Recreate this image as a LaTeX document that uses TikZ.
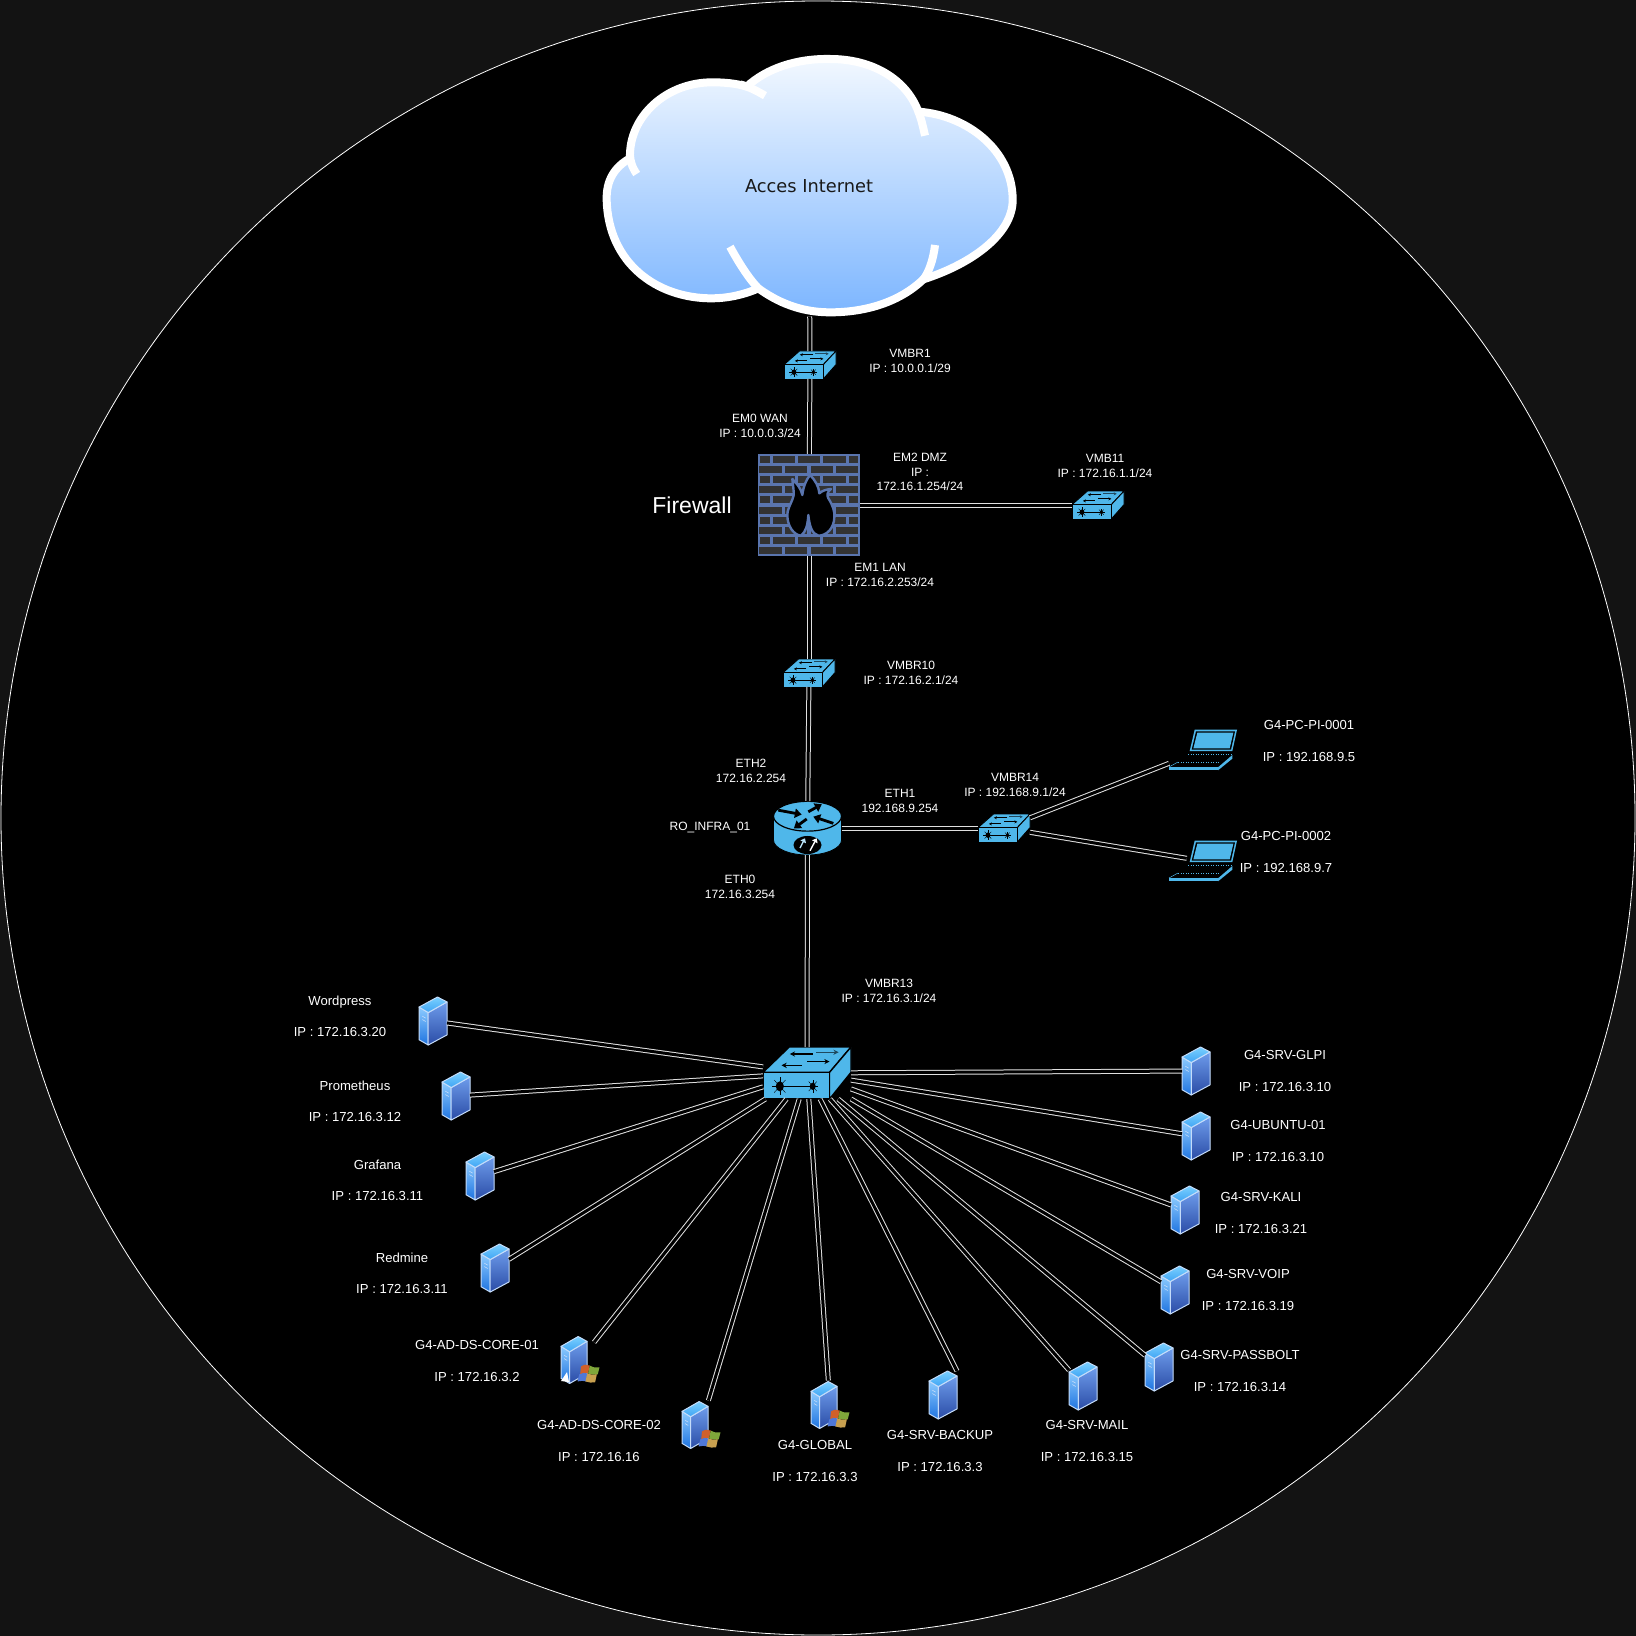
\documentclass[tikz,border=0pt]{standalone}
\usepackage{fontspec}
\setmainfont{Liberation Sans}
\newfontfamily\cloudfont{DejaVu Sans}
\usetikzlibrary{
  arrows.meta,
  positioning
}
\definecolor{nwOuter}{HTML}{131313}
\definecolor{nwIcon}{HTML}{4FB7EA}
\definecolor{nwMortar}{HTML}{5A75AE}
\definecolor{nwBrick}{HTML}{333333}
\definecolor{nwFlame}{HTML}{000000}
\definecolor{nwCloudTop}{HTML}{F2F8FF}
\definecolor{nwCloudLow}{HTML}{7DB6FF}
\definecolor{nwSrvEdge}{HTML}{C4DCFA}
\definecolor{nwSrvLeftA}{HTML}{8CCBFF}
\definecolor{nwSrvLeftB}{HTML}{1E73E0}
\definecolor{nwSrvRightA}{HTML}{6E9CEB}
\definecolor{nwSrvRightB}{HTML}{2A4CA6}
\definecolor{nwSrvTopA}{HTML}{7AD0FF}
\definecolor{nwSrvTopB}{HTML}{3FA4F4}
\definecolor{nwWinRed}{HTML}{D0602A}
\definecolor{nwWinGreen}{HTML}{7FA63A}
\definecolor{nwWinBlue}{HTML}{4F78D8}
\definecolor{nwWinYellow}{HTML}{C8A04F}
\tikzset{
  hitbox/.style={inner sep=0pt, outer sep=0pt, rectangle},
  swsmall/.style={hitbox, minimum width=26pt, minimum height=14pt},
  swcore/.style={hitbox, minimum width=44pt, minimum height=26pt},
  srvbox/.style={hitbox, minimum width=14pt, minimum height=24pt},
  winbox/.style={hitbox, minimum width=19pt, minimum height=24.5pt},
  pcbox/.style={hitbox, minimum width=34pt, minimum height=20.5pt},
  netlink/.style={draw=white!88!black, line width=.5pt, double=black, double distance=1.5pt},
  lbl/.style={text=white, align=center, inner sep=0pt, yshift=-.5pt, font=\fontsize{6}{7.3}\selectfont},
  srvlbl/.style={lbl, font=\fontsize{6.55}{8}\selectfont},
  cloudedge/.style={draw=white, line width=4pt, line join=round},
  brick/.style={fill=nwBrick},
  routerarrow/.style={-{Triangle[length=3.4pt,width=4.6pt]}, black, line width=1.4pt},
  routerinner/.style={-{Triangle[length=2pt,width=3pt]}, line width=.7pt},
  pics/switchpic/.style={code={
    \filldraw[fill=nwIcon, draw=black] (-.5,-.013) -- (-.202,-.5) -- (.5,-.5) -- (.256,-.013) -- cycle;
    \filldraw[fill=nwIcon, draw=black] (.256,-.013) -- (.5,-.5) -- (.5,-.013) -- (.256,.5) -- cycle;
    \filldraw[fill=nwIcon, draw=black] (-.5,-.013) rectangle (.256,.5);
    \draw[-{Stealth[length=#1,width=#1]}, black] (.065,-.365) -- (-.195,-.365);
    \draw[-{Stealth[length=#1,width=#1]}, black!60!nwIcon] (.103,-.40) -- (.359,-.40);
    \draw[-{Stealth[length=#1,width=#1]}, black] (-.06,-.147) -- (-.29,-.147);
    \draw[-{Stealth[length=#1,width=#1]}, black] (0,-.22) -- (.256,-.22);
    \draw[black] (-.309,.256) -- (.065,.256);
    \fill[black] (-.309,.256) ellipse [x radius=.046, y radius=.096];
    \fill[black] (.065,.256) ellipse [x radius=.034, y radius=.07];
    \foreach \ang in {0,45,...,315} {
      \draw[black, line width=.2pt] (-.309,.256) -- ++({\ang}:.09 and .17);
      \draw[black, line width=.2pt] (.065,.256) -- ++({\ang}:.065 and .13);
    }
  }},
  serverpic/.pic={
    \shadedraw[top color=nwSrvLeftA, bottom color=nwSrvLeftB, draw=nwSrvEdge, line width=.5pt, line join=round]
      (-.5,-.29) -- (-.17,-.176) -- (-.17,.5) -- (-.5,.39) -- cycle;
    \shadedraw[top color=nwSrvRightA, bottom color=nwSrvRightB, draw=nwSrvEdge, line width=.5pt, line join=round]
      (-.17,-.176) -- (.5,-.397) -- (.5,.29) -- (-.17,.5) -- cycle;
    \shadedraw[top color=nwSrvTopA, bottom color=nwSrvTopB, draw=nwSrvEdge, line width=.5pt, line join=round]
      (-.5,-.29) -- (.16,-.5) -- (.5,-.397) -- (-.17,-.176) -- cycle;
    \draw[nwSrvEdge, line width=.3pt] (-.38,-.1) -- (-.26,-.06) (-.38,-.03) -- (-.26,.01);
  },
  winlogo/.pic={
    \fill[nwWinRed] (-1,-9) .. controls (3,-12) and (6,-11) .. (9,-10) -- (7,-1) .. controls (4,-2) and (1,-2) .. (-2,0) -- cycle;
    \fill[nwWinGreen] (9,-10) .. controls (13,-8) and (16,-7) .. (20,-8) -- (18,0) .. controls (14,1) and (11,0) .. (7,-1) -- cycle;
    \fill[nwWinBlue] (-3,0) .. controls (0,-2) and (3,-2) .. (6,-1) -- (5,8) .. controls (2,7) and (-1,7) .. (-5,8) -- cycle;
    \fill[nwWinYellow] (6,-1) .. controls (10,0) and (13,1) .. (17,0) -- (15,9) .. controls (11,10) and (8,9) .. (4,8) -- cycle;
  },
  laptoppic/.pic={
    \fill[nwIcon] (-40,3) -- (-25,-61) -- (102,-61) -- (88,3) -- cycle;
    \fill[black] (-34,-1) -- (-21,-56) -- (96,-56) -- (84,-1) -- cycle;
    \fill[nwIcon] (-29,-5) -- (-17,-52) -- (91,-52) -- (80,-5) -- cycle;
    \fill[nwIcon] (-102,52) -- (45,52) -- (45,61) -- (-102,61) -- cycle;
    \fill[nwIcon] (45,52) -- (88,15) -- (88,26) -- (45,61) -- cycle;
    \draw[nwIcon, line width=.25pt] (-102,51) -- (-75,36);
    \draw[nwIcon, line width=.25pt, densely dotted] (-45,13) -- (88,13);
    \draw[nwIcon, line width=.25pt, densely dotted] (-75,36) -- (50,36);
  },
  routerpic/.pic={
    \filldraw[fill=nwIcon, draw=black, line width=.4pt] (-.5,-.218) -- (-.5,.224) .. controls (-.5,.37) and (-.28,.5) .. (0,.5)
      .. controls (.28,.5) and (.5,.37) .. (.5,.224) -- (.5,-.218) -- cycle;
    \filldraw[fill=nwIcon, draw=black, line width=.6pt] (0,-.218) ellipse [x radius=.5, y radius=.276];
    \draw[routerarrow] (-.43,-.33) -- (-.086,-.25);
    \draw[routerarrow] (.012,-.30) -- (.21,-.44);
    \draw[routerarrow] (-.012,-.167) -- (-.2,.006);
    \draw[routerarrow] (.38,-.086) -- (.085,-.21);
    \fill[black] (0,.315) ellipse [x radius=.206, y radius=.167];
    \draw[routerinner, nwIcon!40!white] (-.11,.37) -- (-.037,.19);
    \draw[routerinner, white] (.037,.42) -- (.135,.19);
  },
  firewallpic/.pic={
    \fill[nwMortar] (113,72) rectangle (420,378);
    \foreach \r in {0,2,4,6,8} {
      \foreach \a/\b in {120/150,158/225,233/300,310/378,387/415}
        \fill[brick] ({\a},{77+\r*30.6}) rectangle ({\b},{98+\r*30.6});
    }
    \foreach \r in {1,3,5,7,9} {
      \foreach \a/\b in {118/187,195/262,272/340,347/415}
        \fill[brick] ({\a},{77+\r*30.6}) rectangle ({\b},{98+\r*30.6});
    }
    \filldraw[fill=nwFlame, draw=nwMortar, line width=1.2pt, line join=round]
      (270,135) .. controls (285,150) and (297,170) .. (298,190)
      .. controls (305,183) and (318,178) .. (333,177)
      .. controls (322,185) and (320,195) .. (325,205)
      .. controls (338,225) and (345,245) .. (343,262)
      .. controls (342,295) and (320,317) .. (295,317)
      .. controls (275,312) and (268,285) .. (265,255)
      .. controls (263,285) and (258,305) .. (243,317)
      .. controls (222,315) and (202,290) .. (202,255)
      .. controls (202,230) and (225,205) .. (221,185)
      .. controls (220,170) and (218,160) .. (217,147)
      .. controls (230,160) and (243,175) .. (247,195)
      .. controls (250,170) and (258,150) .. (270,135) -- cycle;
  }
}
\begin{document}
\begin{tikzpicture}[x=.5pt, y=-.5pt]
  \useasboundingbox (0,0) rectangle (1636,1636);
  \fill[nwOuter] (0,0) rectangle (1636,1636);
  \filldraw[fill=black, draw=white, line width=.4pt] (818,818) circle [radius=817];

  % cloud
  \begin{scope}[shift={(580,30)}, x=.16667pt, y=-.16667pt]
    \shade[top color=nwCloudTop, bottom color=nwCloudLow]
      (80,510) .. controls (78,450) and (105,410) .. (150,385)
      .. controls (145,260) and (260,155) .. (400,157)
      .. controls (430,157) and (470,160) .. (500,170)
      .. controls (560,115) and (650,85) .. (750,87)
      .. controls (880,87) and (980,150) .. (1015,245)
      .. controls (1160,255) and (1298,360) .. (1298,510)
      .. controls (1298,610) and (1180,700) .. (1030,748)
      .. controls (960,815) and (860,847) .. (750,847)
      .. controls (660,847) and (590,815) .. (535,775)
      .. controls (490,795) and (440,805) .. (395,805)
      .. controls (230,805) and (85,700) .. (80,510) -- cycle;
    \draw[cloudedge]
      (80,510) .. controls (78,450) and (105,410) .. (150,385)
      .. controls (145,260) and (260,155) .. (400,157)
      .. controls (430,157) and (470,160) .. (500,170)
      .. controls (560,115) and (650,85) .. (750,87)
      .. controls (880,87) and (980,150) .. (1015,245)
      .. controls (1160,255) and (1298,360) .. (1298,510)
      .. controls (1298,610) and (1180,700) .. (1030,748)
      .. controls (960,815) and (860,847) .. (750,847)
      .. controls (660,847) and (590,815) .. (535,775)
      .. controls (490,795) and (440,805) .. (395,805)
      .. controls (230,805) and (85,700) .. (80,510) -- cycle;
    \draw[cloudedge] (170,432) .. controls (155,410) and (150,390) .. (150,375);
    \draw[cloudedge] (480,163) .. controls (505,170) and (530,182) .. (555,197);
    \draw[cloudedge] (1015,245) .. controls (1025,270) and (1030,295) .. (1035,317);
    \draw[cloudedge] (1065,645) .. controls (1060,690) and (1045,730) .. (1030,748);
    \draw[cloudedge] (450,650) .. controls (480,705) and (510,750) .. (535,775);
  \end{scope}
  \node[hitbox, minimum width=209pt, minimum height=130.5pt, text=black!90, font=\cloudfont\fontsize{8.9}{11}\selectfont] (cloud) at (809,186) {Acces Internet};

  % switches
  \foreach \nm/\x/\y in {sw1/810/365, sw10/809/673, sw11/1098/505, sw14/1004/828} {
    \node[swsmall] (\nm) at (\x,\y) {};
    \pic[x=26pt, y=-14pt, line width=.45pt] at (\nm) {switchpic=1.5pt};
  }
  \node[swcore] (sw13) at (807,1073) {};
  \pic[x=44pt, y=-26pt, line width=.7pt] at (sw13) {switchpic=2.6pt};

  % firewall, router
  \node[hitbox, minimum size=51pt] (fw) at (809,505) {};
  \begin{scope}[shift={(720,430)}, x=.16667pt, y=-.16667pt]
    \pic at (0,0) {firewallpic};
  \end{scope}
  \node[hitbox, minimum width=34pt, minimum height=27pt] (ro) at (807.5,828) {};
  \pic[x=34pt, y=-27pt] at (ro) {routerpic};

  % laptops
  \foreach \nm/\y in {pc1/750, pc2/861} {
    \node[pcbox] (\nm) at (1203,\y) {};
    \pic[x=.16667pt, y=-.16667pt] at (\nm) {laptoppic};
  }

  % servers
  \foreach \nm/\x/\y in {wordpress/433/1021, prometheus/456/1096, grafana/480/1176, redmine/495/1268,
      backup/943/1395, mail/1083/1386, passbolt/1159/1367, voip/1175/1290, kali/1185/1210,
      ubuntu/1196/1136, glpi/1196/1071} {
    \node[srvbox] (\nm) at (\x,\y) {};
    \pic[x=14pt, y=-24pt] at (\nm) {serverpic};
  }
  \foreach \nm/\x/\y in {adone/580/1360, adtwo/701/1425, global/830/1405} {
    \node[winbox] (\nm) at (\x,\y) {};
    \pic[x=13pt, y=-23.5pt, xshift=-3pt] at (\nm) {serverpic};
    \pic[x=.44pt, y=-.44pt, xshift=.95pt, yshift=-7.2pt] at (\nm) {winlogo};
  }
  \fill[white] (561,1381) -- (567,1372) -- (569,1382) -- cycle;

  % links
  \draw[netlink] (cloud) -- (sw1);
  \draw[netlink] (sw1) -- (fw);
  \draw[netlink] (fw) -- (sw11);
  \draw[netlink] (fw) -- (sw10);
  \draw[netlink] (sw10) -- (ro);
  \draw[netlink] (ro) -- (sw14);
  \draw[netlink] (ro) -- (sw13);
  \draw[netlink] (sw14) -- (pc1);
  \draw[netlink, shorten >=-9pt] (sw14) -- (pc2);
  \foreach \nm in {wordpress, prometheus, grafana, redmine, adtwo, global, mail, passbolt, voip, kali, ubuntu, glpi}
    \draw[netlink] (sw13) -- (\nm);
  \draw[netlink, shorten >=-4pt] (sw13) -- (adone);
  \draw[netlink] (sw13) -- (backup.north east);

  % labels
  \node[lbl] (lsw1) at (910,360) {VMBR1\\IP : 10.0.0.1/29};
  \node[lbl] (lwan) at (760,425) {EM0 WAN\\IP : 10.0.0.3/24};
  \node[lbl] (ldmz) at (920,471) {EM2 DMZ\\IP :\\172.16.1.254/24};
  \node[lbl] (lsw11) at (1105,465) {VMB11\\IP : 172.16.1.1/24};
  \node[lbl, font=\fontsize{11.5}{14}\selectfont] (lfw) at (692,504) {Firewall};
  \node[lbl] (llan) at (880,574) {EM1 LAN\\IP : 172.16.2.253/24};
  \node[lbl] (lsw10) at (911,672) {VMBR10\\IP : 172.16.2.1/24};
  \node[lbl] (leth2) at (751,770) {ETH2\\172.16.2.254};
  \node[lbl] (leth1) at (900,800) {ETH1\\192.168.9.254};
  \node[lbl] (lsw14) at (1015,784) {VMBR14\\IP : 192.168.9.1/24};
  \node[lbl] (lro) at (710,826) {RO\_INFRA\_01};
  \node[lbl] (leth0) at (740,886) {ETH0\\172.16.3.254};
  \node[lbl] (lsw13) at (889,990) {VMBR13\\IP : 172.16.3.1/24};
  \node[srvlbl] (lpc1) at (1309,740) {G4-PC-PI-0001\\[7.6pt]IP : 192.168.9.5};
  \node[srvlbl] (lpc2) at (1286,851) {G4-PC-PI-0002\\[7.6pt]IP : 192.168.9.7};
  \node[srvlbl] (lwordpress) at (340,1015) {Wordpress\\[7.6pt]IP : 172.16.3.20};
  \node[srvlbl] (lprometheus) at (355,1100) {Prometheus\\[7.6pt]IP : 172.16.3.12};
  \node[srvlbl] (lgrafana) at (377.5,1179) {Grafana\\[7.6pt]IP : 172.16.3.11};
  \node[srvlbl] (lredmine) at (402,1272) {Redmine\\[7.6pt]IP : 172.16.3.11};
  \node[srvlbl] (ladone) at (477,1360) {G4-AD-DS-CORE-01\\[7.6pt]IP : 172.16.3.2};
  \node[srvlbl] (ladtwo) at (599,1440) {G4-AD-DS-CORE-02\\[7.6pt]IP : 172.16.16};
  \node[srvlbl] (lglobal) at (815,1460) {G4-GLOBAL\\[7.6pt]IP : 172.16.3.3};
  \node[srvlbl] (lbackup) at (940,1450) {G4-SRV-BACKUP\\[7.6pt]IP : 172.16.3.3};
  \node[srvlbl] (lmail) at (1087,1440) {G4-SRV-MAIL\\[7.6pt]IP : 172.16.3.15};
  \node[srvlbl] (lpassbolt) at (1240,1370) {G4-SRV-PASSBOLT\\[7.6pt]IP : 172.16.3.14};
  \node[srvlbl] (lvoip) at (1248,1289) {G4-SRV-VOIP\\[7.6pt]IP : 172.16.3.19};
  \node[srvlbl] (lkali) at (1261,1212) {G4-SRV-KALI\\[7.6pt]IP : 172.16.3.21};
  \node[srvlbl] (lubuntu) at (1278,1140) {G4-UBUNTU-01\\[7.6pt]IP : 172.16.3.10};
  \node[srvlbl] (lglpi) at (1285,1070) {G4-SRV-GLPI\\[7.6pt]IP : 172.16.3.10};
\end{tikzpicture}
\end{document}
